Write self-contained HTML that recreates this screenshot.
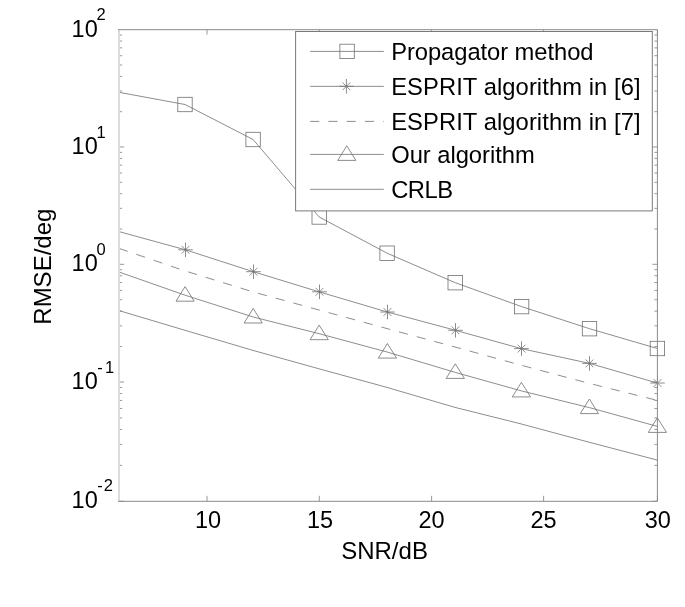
<!DOCTYPE html><html><head><meta charset="utf-8"><style>html,body{margin:0;padding:0;background:#fff;}svg{display:block;filter:grayscale(1);}text{font-family:"Liberation Sans",sans-serif;fill:#000;}</style></head><body>
<svg width="685" height="607" viewBox="0 0 685 607">
<rect x="0" y="0" width="685" height="607" fill="#fff"/>
<path d="M207.0 501.3v-5.5M207.0 29.7v5M319.3 501.3v-5.5M319.3 29.7v5M431.6 501.3v-5.5M431.6 29.7v5M543.6 501.3v-5.5M543.6 29.7v5M657.4 501.3v-5.5M657.4 29.7v5M119.1 501.30h5M657.4 501.30h-5M119.1 465.39h3M657.4 465.39h-3M119.1 444.38h3M657.4 444.38h-3M119.1 429.47h3M657.4 429.47h-3M119.1 417.91h3M657.4 417.91h-3M119.1 408.47h3M657.4 408.47h-3M119.1 400.48h3M657.4 400.48h-3M119.1 393.56h3M657.4 393.56h-3M119.1 387.46h3M657.4 387.46h-3M119.1 382.00h5M657.4 382.00h-5M119.1 346.57h3M657.4 346.57h-3M119.1 325.84h3M657.4 325.84h-3M119.1 311.14h3M657.4 311.14h-3M119.1 299.73h3M657.4 299.73h-3M119.1 290.41h3M657.4 290.41h-3M119.1 282.53h3M657.4 282.53h-3M119.1 275.71h3M657.4 275.71h-3M119.1 269.69h3M657.4 269.69h-3M119.1 264.30h5M657.4 264.30h-5M119.1 228.99h3M657.4 228.99h-3M119.1 208.33h3M657.4 208.33h-3M119.1 193.68h3M657.4 193.68h-3M119.1 182.31h3M657.4 182.31h-3M119.1 173.02h3M657.4 173.02h-3M119.1 165.17h3M657.4 165.17h-3M119.1 158.37h3M657.4 158.37h-3M119.1 152.37h3M657.4 152.37h-3M119.1 147.00h5M657.4 147.00h-5M119.1 111.69h3M657.4 111.69h-3M119.1 91.03h3M657.4 91.03h-3M119.1 76.38h3M657.4 76.38h-3M119.1 65.01h3M657.4 65.01h-3M119.1 55.72h3M657.4 55.72h-3M119.1 47.87h3M657.4 47.87h-3M119.1 41.07h3M657.4 41.07h-3M119.1 35.07h3M657.4 35.07h-3" stroke="#999" stroke-width="1" fill="none"/>
<polyline points="119.0,92.3 185.0,104.5 253.1,139.5 319.2,217.0 387.1,253.2 455.2,282.7 521.6,306.6 589.5,328.7 657.4,348.5" stroke="#707070" stroke-width="0.8" fill="none"/>
<polyline points="119.0,231.6 185.4,249.8 253.3,271.7 319.0,291.8 387.3,312.0 455.5,330.3 521.2,348.6 589.6,363.4 657.2,383.0" stroke="#707070" stroke-width="0.8" fill="none"/>
<polyline points="119.0,248.4 185.0,270.9 253.0,291.9 319.0,310.0 387.0,328.6 455.0,347.0 521.0,365.2 589.0,383.3 657.4,400.4" stroke="#707070" stroke-width="0.8" fill="none" stroke-dasharray="9.15 9.12"/>
<polyline points="119.0,272.0 185.1,295.2 253.2,317.0 319.2,333.7 387.4,352.1 455.3,372.4 521.4,390.9 589.4,407.6 657.4,426.4" stroke="#707070" stroke-width="0.8" fill="none"/>
<polyline points="119.0,310.6 185.0,330.3 253.0,350.4 319.0,368.8 387.0,387.4 455.0,407.4 521.0,423.9 589.0,442.2 657.4,460.1" stroke="#707070" stroke-width="0.8" fill="none"/>
<rect x="177.8" y="97.3" width="14.4" height="14.4" stroke="#707070" stroke-width="0.8" fill="none"/>
<rect x="245.9" y="132.3" width="14.4" height="14.4" stroke="#707070" stroke-width="0.8" fill="none"/>
<rect x="312.0" y="209.8" width="14.4" height="14.4" stroke="#707070" stroke-width="0.8" fill="none"/>
<rect x="379.9" y="246.0" width="14.4" height="14.4" stroke="#707070" stroke-width="0.8" fill="none"/>
<rect x="448.0" y="275.5" width="14.4" height="14.4" stroke="#707070" stroke-width="0.8" fill="none"/>
<rect x="514.4" y="299.4" width="14.4" height="14.4" stroke="#707070" stroke-width="0.8" fill="none"/>
<rect x="582.3" y="321.5" width="14.4" height="14.4" stroke="#707070" stroke-width="0.8" fill="none"/>
<rect x="650.2" y="341.3" width="14.4" height="14.4" stroke="#707070" stroke-width="0.8" fill="none"/>
<path d="M178.2 249.8h14.6M185.5 242.5v14.6M181.6 245.9l7.8 7.8M181.6 253.7l7.8 -7.8" stroke="#707070" stroke-width="0.8" fill="none"/>
<path d="M246.2 271.7h14.6M253.5 264.4v14.6M249.6 267.8l7.8 7.8M249.6 275.6l7.8 -7.8" stroke="#707070" stroke-width="0.8" fill="none"/>
<path d="M312.2 291.8h14.6M319.5 284.5v14.6M315.6 287.9l7.8 7.8M315.6 295.7l7.8 -7.8" stroke="#707070" stroke-width="0.8" fill="none"/>
<path d="M380.2 312.0h14.6M387.5 304.7v14.6M383.6 308.1l7.8 7.8M383.6 315.9l7.8 -7.8" stroke="#707070" stroke-width="0.8" fill="none"/>
<path d="M448.2 330.3h14.6M455.5 323.0v14.6M451.6 326.4l7.8 7.8M451.6 334.2l7.8 -7.8" stroke="#707070" stroke-width="0.8" fill="none"/>
<path d="M514.2 348.6h14.6M521.5 341.3v14.6M517.6 344.7l7.8 7.8M517.6 352.5l7.8 -7.8" stroke="#707070" stroke-width="0.8" fill="none"/>
<path d="M582.2 363.4h14.6M589.5 356.1v14.6M585.6 359.5l7.8 7.8M585.6 367.3l7.8 -7.8" stroke="#707070" stroke-width="0.8" fill="none"/>
<path d="M650.2 383.0h14.6M657.5 375.7v14.6M653.6 379.1l7.8 7.8M653.6 386.9l7.8 -7.8" stroke="#707070" stroke-width="0.8" fill="none"/>
<path d="M185.1 286.6L194.2 301.2H176.0Z" stroke="#707070" stroke-width="0.8" fill="none"/>
<path d="M253.2 308.4L262.3 323.0H244.1Z" stroke="#707070" stroke-width="0.8" fill="none"/>
<path d="M319.2 325.1L328.3 339.7H310.1Z" stroke="#707070" stroke-width="0.8" fill="none"/>
<path d="M387.4 343.5L396.5 358.1H378.3Z" stroke="#707070" stroke-width="0.8" fill="none"/>
<path d="M455.3 363.8L464.4 378.4H446.2Z" stroke="#707070" stroke-width="0.8" fill="none"/>
<path d="M521.4 382.3L530.5 396.9H512.3Z" stroke="#707070" stroke-width="0.8" fill="none"/>
<path d="M589.4 399.0L598.5 413.6H580.3Z" stroke="#707070" stroke-width="0.8" fill="none"/>
<path d="M657.4 417.8L666.5 432.4H648.3Z" stroke="#707070" stroke-width="0.8" fill="none"/>
<rect x="118" y="29.2" width="2" height="472.6" fill="#dcdcdc"/>
<path d="M118.0 29.7H657.4V501.3H118.0" stroke="#8a8a8a" stroke-width="1" fill="none"/>
<rect x="295.6" y="31.5" width="356.7" height="179.4" stroke="#7a7a7a" stroke-width="1" fill="#fff"/>
<path d="M310.1 51.4H383.8" stroke="#707070" stroke-width="0.8" fill="none"/>
<rect x="339.9" y="44.2" width="14.4" height="14.4" stroke="#707070" stroke-width="0.8" fill="none"/>
<text x="391.2" y="60.3" font-size="23.75" textLength="202.3" lengthAdjust="spacing">Propagator method</text>
<path d="M310.1 86.35H383.8" stroke="#707070" stroke-width="0.8" fill="none"/>
<path d="M339.1 86.3h14.6M346.4 79.0v14.6M342.5 82.4l7.8 7.8M342.5 90.2l7.8 -7.8" stroke="#707070" stroke-width="0.8" fill="none"/>
<text x="391.2" y="95.2" font-size="23.75" textLength="249.4" lengthAdjust="spacing">ESPRIT algorithm in [6]</text>
<path d="M310.1 121.4H383.8" stroke="#707070" stroke-width="0.8" fill="none" stroke-dasharray="9.15 9.12"/>
<text x="391.2" y="130.3" font-size="23.75" textLength="249.4" lengthAdjust="spacing">ESPRIT algorithm in [7]</text>
<path d="M310.1 154.4H383.8" stroke="#707070" stroke-width="0.8" fill="none"/>
<path d="M346.8 145.8L355.9 160.4H337.7Z" stroke="#707070" stroke-width="0.8" fill="none"/>
<text x="391.2" y="163.3" font-size="23.75" textLength="143.5" lengthAdjust="spacing">Our algorithm</text>
<path d="M310.1 189.3H383.8" stroke="#707070" stroke-width="0.8" fill="none"/>
<text x="391.2" y="198.2" font-size="23.75" textLength="61.9" lengthAdjust="spacing">CRLB</text>
<text x="208.0" y="528.2" font-size="23.5" text-anchor="middle">10</text>
<text x="320.1" y="528.2" font-size="23.5" text-anchor="middle">15</text>
<text x="431.6" y="528.2" font-size="23.5" text-anchor="middle">20</text>
<text x="543.6" y="528.2" font-size="23.5" text-anchor="middle">25</text>
<text x="657.7" y="528.2" font-size="23.5" text-anchor="middle">30</text>
<text x="71.6" y="36.5" font-size="23.5">10</text>
<text x="96.6" y="20.3" font-size="16.5">2</text>
<text x="71.6" y="153.8" font-size="23.5">10</text>
<text x="96.6" y="137.6" font-size="16.5">1</text>
<text x="71.6" y="271.0" font-size="23.5">10</text>
<text x="96.6" y="254.8" font-size="16.5">0</text>
<text x="71.6" y="389.0" font-size="23.5">10</text>
<text x="97.2" y="372.8" font-size="16.5">-<tspan dx="2.3">1</tspan></text>
<text x="71.6" y="507.6" font-size="23.5">10</text>
<text x="97.2" y="491.4" font-size="16.5">-<tspan dx="1.0">2</tspan></text>
<text x="341.2" y="558.6" font-size="24">SNR/dB</text>
<text transform="translate(50.8,324.7) rotate(-90)" x="0" y="0" font-size="24">RMSE/deg</text>
</svg></body></html>
